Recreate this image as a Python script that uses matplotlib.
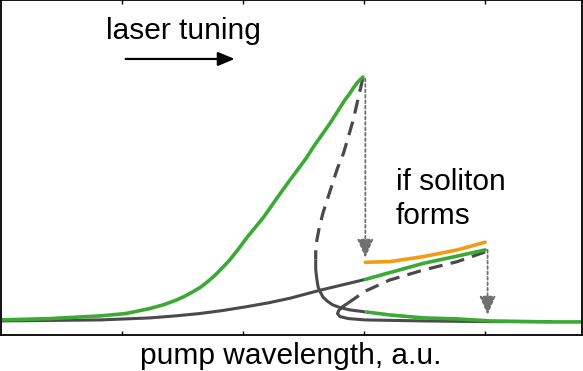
import matplotlib
matplotlib.use("Agg")
import matplotlib.pyplot as plt

plt.rcParams['font.family'] = ['Liberation Sans', 'DejaVu Sans']

green = '#3aaa35'
grey = '#4a4a4a'
orange = '#f39c12'
arrow_grey = '#707070'

# main resonance, upper (green) branch
a_up_x = [0.0, 0.41, 0.82, 1.03, 1.23, 1.34, 1.44, 1.52, 1.58, 1.65, 1.71, 1.77, 1.83, 1.89, 1.96, 2.03, 2.10, 2.17, 2.24, 2.31, 2.38, 2.45, 2.52, 2.58, 2.65, 2.72, 2.78, 2.84, 2.88, 2.91, 2.95, 2.99]
a_up_y = [0.045, 0.049, 0.057, 0.064, 0.079, 0.090, 0.103, 0.116, 0.128, 0.143, 0.160, 0.179, 0.201, 0.224, 0.256, 0.290, 0.321, 0.352, 0.388, 0.424, 0.459, 0.493, 0.527, 0.561, 0.597, 0.633, 0.667, 0.701, 0.720, 0.737, 0.756, 0.770]
# main resonance, middle (unstable) branch
a_mid_x = [2.99, 2.95, 2.91, 2.87, 2.83, 2.78, 2.74, 2.70, 2.66, 2.63, 2.61, 2.60, 2.60]
a_mid_y = [0.767, 0.705, 0.642, 0.592, 0.543, 0.498, 0.454, 0.409, 0.364, 0.322, 0.284, 0.255, 0.225]
# main resonance, lower branch
a_low_x = [2.60, 2.60, 2.61, 2.62, 2.64, 2.66, 2.70, 2.74, 2.80, 2.88, 3.01]
a_low_y = [0.225, 0.195, 0.165, 0.143, 0.127, 0.113, 0.100, 0.090, 0.082, 0.075, 0.069]
a_low_g_x = [3.01, 3.21, 3.49, 3.77, 4.04, 4.54, 4.80]
a_low_g_y = [0.069, 0.060, 0.051, 0.048, 0.042, 0.039, 0.039]

# soliton resonance
b_left_x = [0.0, 0.82, 1.23, 1.44, 1.64, 1.83, 2.02, 2.21, 2.39, 2.64, 3.01]
b_left_y = [0.042, 0.045, 0.051, 0.057, 0.064, 0.073, 0.084, 0.096, 0.110, 0.134, 0.166]
b_up_x = [3.01, 3.26, 3.49, 3.75, 4.00]
b_up_y = [0.166, 0.191, 0.214, 0.234, 0.254]
b_mid_x = [4.00, 3.77, 3.49, 3.21, 3.01, 2.87]
b_mid_y = [0.248, 0.219, 0.194, 0.164, 0.131, 0.096]
b_low_x = [2.87, 2.82, 2.79, 2.78, 2.80, 2.87, 3.01, 3.49, 4.02, 4.55]
b_low_y = [0.096, 0.084, 0.073, 0.064, 0.055, 0.049, 0.045, 0.042, 0.040, 0.040]

# soliton branch
sol_x = [3.01, 3.21, 3.49, 3.77, 4.00]
sol_y = [0.217, 0.219, 0.234, 0.254, 0.277]

fig = plt.figure(figsize=(5.83, 3.71), dpi=100)
ax = fig.add_axes([1/583, 1 - 335/371, 581/583, 335/371])

ax.plot(b_left_x, b_left_y, color=grey, lw=2.2, solid_capstyle='butt')
ax.plot(b_low_x, b_low_y, color=grey, lw=2.2, solid_capstyle='butt')
ax.plot(b_mid_x, b_mid_y, color=grey, lw=2.3, dashes=(4.4, 2.6))
ax.plot(a_mid_x, a_mid_y, color=grey, lw=2.3, dashes=(4.4, 2.6))
ax.plot(a_low_x, a_low_y, color=grey, lw=2.2, solid_capstyle='butt')
ax.plot(a_up_x, a_up_y, color=green, lw=2.6, solid_capstyle='round')
ax.plot(a_low_g_x, a_low_g_y, color=green, lw=2.6, solid_capstyle='butt')
ax.plot(b_up_x, b_up_y, color=green, lw=2.6, solid_capstyle='round')
ax.plot(sol_x, sol_y, color=orange, lw=2.6, solid_capstyle='round')

dot_arrow = dict(arrowstyle='-|>,head_length=1.15,head_width=0.5', color=arrow_grey,
                 lw=1.3, ls=(0, (1.5, 1.5)), shrinkA=0, shrinkB=0)
ax.annotate('', xy=(3.01, 0.230), xytext=(3.01, 0.765), arrowprops=dot_arrow)
ax.annotate('', xy=(4.02, 0.060), xytext=(4.02, 0.254), arrowprops=dot_arrow)

ax.annotate('', xy=(1.93, 0.824), xytext=(1.03, 0.824),
            arrowprops=dict(arrowstyle='-|>,head_length=1.0,head_width=0.42',
                            color='black', lw=1.6, shrinkA=0, shrinkB=0))
ax.text(0.87, 0.884, 'laser tuning', fontsize=21.5, ha='left', va='baseline')
ax.text(3.26, 0.433, 'if soliton', fontsize=21.5, ha='left', va='baseline')
ax.text(3.26, 0.331, 'forms', fontsize=21.5, ha='left', va='baseline')

ax.set_xlim(0, 4.8)
ax.set_ylim(0, 1)
ax.set_xticks([1, 2, 3, 4])
ax.set_xticklabels([])
ax.set_yticks([])
ax.tick_params(axis='x', direction='in', top=True, length=3, width=1)
for s in ax.spines.values():
    s.set_linewidth(1.3)

fig.text(291/583, 1 - 364/371, 'pump wavelength, a.u.', fontsize=21.5, ha='center', va='baseline')

fig.savefig('out.png', dpi=100)
